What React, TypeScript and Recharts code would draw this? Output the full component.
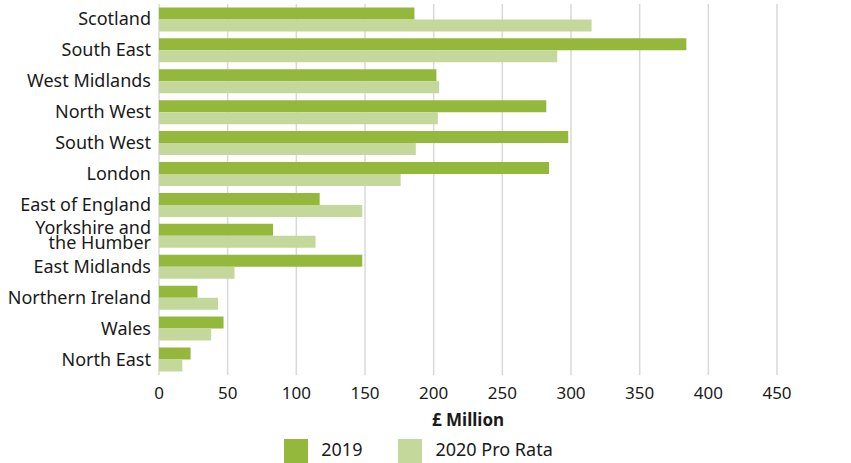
import React from "react";
import { BarChart, Bar, XAxis, YAxis, CartesianGrid, Legend } from "recharts";

const regions = [
  "Scotland",
  "South East",
  "West Midlands",
  "North West",
  "South West",
  "London",
  "East of England",
  "Yorkshire and the Humber",
  "East Midlands",
  "Northern Ireland",
  "Wales",
  "North East",
];
const values2019 = [186, 384, 202, 282, 298, 284, 117, 83, 148, 28, 47, 23];
const values2020 = [315, 290, 204, 203, 187, 176, 148, 114, 55, 43, 38, 17];
const xTicks = [0, 50, 100, 150, 200, 250, 300, 350, 400, 450];

const data = regions.map((r, i) => ({ region: r, y2019: values2019[i], y2020: values2020[i] }));

const FONT = "'Noto Sans', sans-serif";
const DARK = "#94b83c";
const LIGHT = "#c5d89c";

const YTick = (props: any) => {
  const { x, y, payload } = props;
  const label: string = payload.value;
  const lines = label === "Yorkshire and the Humber" ? ["Yorkshire and", "the Humber"] : [label];
  const lh = 15;
  const start = -((lines.length - 1) * lh) / 2;
  return (
    <text x={x} y={y} textAnchor="end" fill="#1a1a1a" fontSize={18} fontFamily={FONT}>
      {lines.map((l, i) => (
        <tspan key={i} x={x} dy={i === 0 ? start + 6 : lh}>
          {l}
        </tspan>
      ))}
    </text>
  );
};

export default function App() {
  return (
    <div style={{ position: "absolute", left: 0, top: 0, background: "#fff" }}>
      <BarChart
        width={851}
        height={463}
        layout="vertical"
        data={data}
        margin={{ top: 4, right: 74, left: 0, bottom: 0 }}
        barCategoryGap="11%"
        barGap={0}
      >
        <CartesianGrid horizontal={false} stroke="#d9d9d9" strokeWidth={1.5} />
        <XAxis
          type="number"
          domain={[0, 450]}
          ticks={xTicks}
          axisLine={false}
          tickLine={false}
          height={58}
          tick={{ fontSize: 17, fontFamily: FONT, fill: "#1a1a1a", dy: 4 }}
          label={{
            value: "£ Million",
            position: "insideBottom",
            offset: 7,
            style: { fontSize: 17, fontWeight: 700, fontFamily: FONT, fill: "#1a1a1a" },
          }}
        />
        <YAxis
          type="category"
          dataKey="region"
          width={159}
          axisLine={false}
          tickLine={false}
          interval={0}
          tick={<YTick />}
        />
        <Legend
          verticalAlign="bottom"
          align="center"
          iconType="square"
          iconSize={24}
          height={30}
          wrapperStyle={{ fontFamily: FONT, fontSize: 18, color: "#1a1a1a", bottom: -4, left: 48 }}
          formatter={(v: any) => <span style={{ color: "#1a1a1a", marginLeft: 9, marginRight: 26 }}>{v}</span>}
        />
        <Bar dataKey="y2019" name="2019" fill={DARK} isAnimationActive={false} />
        <Bar dataKey="y2020" name="2020 Pro Rata" fill={LIGHT} isAnimationActive={false} />
      </BarChart>
    </div>
  );
}
